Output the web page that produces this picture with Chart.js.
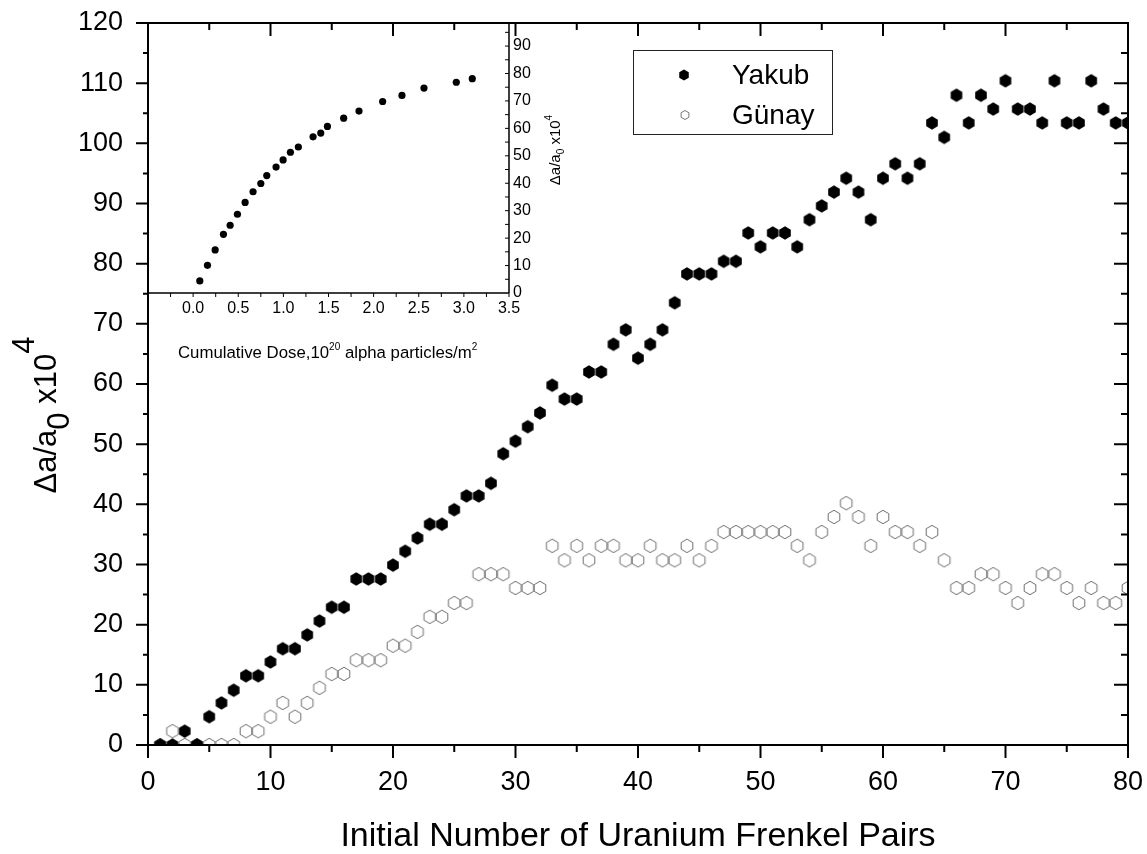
<!DOCTYPE html>
<html>
<head>
<meta charset="utf-8">
<title>Lattice expansion vs. Frenkel pairs</title>
<script src="https://cdn.jsdelivr.net/npm/chart.js@4.4.1/dist/chart.umd.min.js"></script>
<style>
  body { margin: 0; background: #fff; }
  #wrap { position: relative; width: 1147px; height: 854px; }
  #main, #inset { position: absolute; left: 0; top: 0; }
</style>
</head>
<body>
<div id="wrap">
  <canvas id="main" width="1147" height="854"></canvas>
  <canvas id="inset" width="600" height="380"></canvas>
</div>
<script>
// initial number of uranium Frenkel pairs
const frenkelPairs = [1, 2, 3, 4, 5, 6, 7, 8, 9, 10, 11, 12, 13, 14, 15, 16, 17, 18, 19, 20,
  21, 22, 23, 24, 25, 26, 27, 28, 29, 30, 31, 32, 33, 34, 35, 36, 37, 38, 39, 40,
  41, 42, 43, 44, 45, 46, 47, 48, 49, 50, 51, 52, 53, 54, 55, 56, 57, 58, 59, 60,
  61, 62, 63, 64, 65, 66, 67, 68, 69, 70, 71, 72, 73, 74, 75, 76, 77, 78, 79, 80];

// Δa/a0 x10^4
const yakub = [0, 0, 2.3, 0, 4.7, 7.0, 9.1, 11.5, 11.5, 13.8,
  16.0, 16.0, 18.3, 20.6, 22.9, 22.9, 27.6, 27.6, 27.6, 29.9,
  32.2, 34.4, 36.7, 36.7, 39.1, 41.4, 41.4, 43.5, 48.4, 50.5,
  52.9, 55.2, 59.8, 57.5, 57.5, 62.0, 62.0, 66.6, 69.0, 64.3,
  66.6, 69.0, 73.5, 78.3, 78.3, 78.3, 80.4, 80.4, 85.1, 82.8,
  85.1, 85.1, 82.8, 87.3, 89.6, 91.9, 94.2, 91.9, 87.3, 94.2,
  96.6, 94.2, 96.6, 103.4, 101.0, 108.0, 103.4, 108.0, 105.7, 110.4,
  105.7, 105.7, 103.4, 110.4, 103.4, 103.4, 110.4, 105.7, 103.4, 103.4];

const gunay = [0, 2.3, 0, 0, 0, 0, 0, 2.3, 2.3, 4.7,
  7.0, 4.7, 7.0, 9.5, 11.8, 11.8, 14.1, 14.1, 14.1, 16.5,
  16.5, 18.8, 21.3, 21.3, 23.6, 23.6, 28.4, 28.4, 28.4, 26.1,
  26.1, 26.1, 33.1, 30.7, 33.1, 30.7, 33.1, 33.1, 30.7, 30.7,
  33.1, 30.7, 30.7, 33.1, 30.7, 33.1, 35.4, 35.4, 35.4, 35.4,
  35.4, 35.4, 33.1, 30.7, 35.4, 37.9, 40.2, 37.9, 33.1, 37.9,
  35.4, 35.4, 33.1, 35.4, 30.7, 26.1, 26.1, 28.4, 28.4, 26.1,
  23.6, 26.1, 28.4, 28.4, 26.1, 23.6, 26.1, 23.6, 23.6, 26.1];

// inset: cumulative dose (10^20 alpha/m^2) vs Δa/a0 x10^4
const cumulativeDose = [0.074, 0.159, 0.244, 0.336, 0.41, 0.491, 0.576, 0.664, 0.75, 0.816,
  0.919, 0.997, 1.078, 1.166, 1.329, 1.414, 1.488, 1.668, 1.838, 2.1,
  2.314, 2.558, 2.916, 3.093];
const doseExpansion = [4.4, 10.1, 15.7, 21.4, 24.7, 28.7, 33.0, 36.9, 39.9, 42.8,
  45.9, 48.5, 51.3, 53.2, 56.9, 58.3, 60.7, 63.7, 66.3, 69.8,
  72.0, 74.7, 76.8, 78.1];

const FONT = '"Liberation Sans", Arial, sans-serif';
Chart.defaults.font.family = FONT;
Chart.defaults.color = '#000';

function pairs(xs, ys) {
  return xs.map((x, i) => ({ x: x, y: ys[i] }));
}

// hexagon with a vertex on top, used as point marker
function hexPath(g, cx, cy, r) {
  g.beginPath();
  for (let k = 0; k < 6; k++) {
    const a = Math.PI / 2 + k * Math.PI / 3;
    const px = cx + r * Math.cos(a), py = cy + r * Math.sin(a);
    if (k === 0) g.moveTo(px, py); else g.lineTo(px, py);
  }
  g.closePath();
}

function hexMarker(r, fill, stroke) {
  const c = document.createElement('canvas');
  c.width = c.height = 16;
  const g = c.getContext('2d');
  hexPath(g, 8, 8, r);
  if (fill) { g.fillStyle = fill; g.fill(); }
  if (stroke) { g.strokeStyle = stroke; g.lineWidth = 1; g.stroke(); }
  return c;
}

// text runs with baseline shifts (sub/superscripts)
function drawRuns(ctx, runs, align) {
  let total = 0;
  runs.forEach(r => { ctx.font = r.size + 'px ' + FONT; r.w = ctx.measureText(r.t).width; total += r.w; });
  let x = align === 'center' ? -total / 2 : 0;
  ctx.textAlign = 'left';
  ctx.textBaseline = 'alphabetic';
  runs.forEach(r => {
    ctx.font = r.size + 'px ' + FONT;
    ctx.fillText(r.t, x, r.dy || 0);
    x += r.w;
  });
}

// tick marks are drawn by the plugins; the hidden grid tick length only offsets the labels
const hiddenGrid = len => ({ display: false, drawTicks: true, tickLength: len });

const mainDecor = {
  id: 'mainDecor',
  afterDraw(chart) {
    const { ctx, chartArea: a, scales: { x, y } } = chart;
    ctx.save();
    ctx.strokeStyle = '#000';
    ctx.fillStyle = '#000';
    ctx.lineWidth = 2;
    ctx.strokeRect(a.left, a.top, a.right - a.left, a.bottom - a.top);

    ctx.beginPath();
    for (let v = 0; v <= 80; v += 5) {
      const px = x.getPixelForValue(v);
      const len = v % 10 === 0 ? 13 : 7;
      ctx.moveTo(px, a.bottom); ctx.lineTo(px, a.bottom + len);
      ctx.moveTo(px, a.top); ctx.lineTo(px, a.top + len);
    }
    for (let v = 0; v <= 120; v += 5) {
      const py = y.getPixelForValue(v);
      const major = v % 10 === 0;
      ctx.moveTo(a.left, py); ctx.lineTo(a.left - (major ? 12 : 5), py);
      ctx.moveTo(a.right, py); ctx.lineTo(a.right - (major ? 14 : 7), py);
    }
    ctx.stroke();

    // axis titles
    ctx.font = '34px ' + FONT;
    ctx.textAlign = 'center';
    ctx.textBaseline = 'alphabetic';
    ctx.fillText('Initial Number of Uranium Frenkel Pairs', 638, 846);

    ctx.save();
    ctx.translate(56, 415);
    ctx.rotate(-Math.PI / 2);
    drawRuns(ctx, [
      { t: 'Δa/a', size: 31 },
      { t: '0', size: 31, dy: 13 },
      { t: ' x10', size: 31 },
      { t: '4', size: 31, dy: -22 }
    ], 'center');
    ctx.restore();

    // legend
    ctx.lineWidth = 1;
    ctx.strokeStyle = '#222';
    ctx.strokeRect(633.5, 50.5, 199, 84);
    const sets = chart.data.datasets;
    hexPath(ctx, 684, 75, 5.5);
    ctx.fillStyle = '#000';
    ctx.fill();
    hexPath(ctx, 685, 115, 4.5);
    ctx.strokeStyle = '#777';
    ctx.stroke();
    ctx.font = '28px ' + FONT;
    ctx.textAlign = 'left';
    ctx.textBaseline = 'middle';
    ctx.fillText(sets[0].label, 732, 76);
    ctx.fillText(sets[1].label, 732, 116);
    ctx.restore();
  }
};

new Chart(document.getElementById('main'), {
  type: 'scatter',
  data: {
    datasets: [
      {
        label: 'Yakub',
        data: pairs(frenkelPairs, yakub),
        pointStyle: hexMarker(6.7, '#000', null),
        pointRadius: 7
      },
      {
        label: 'Günay',
        data: pairs(frenkelPairs, gunay),
        pointStyle: hexMarker(6.7, null, '#6f6f6f'),
        pointRadius: 7
      }
    ]
  },
  options: {
    responsive: false,
    animation: false,
    layout: { padding: { left: 0, top: 23, right: 19, bottom: 0 } },
    plugins: { legend: { display: false }, tooltip: { enabled: false } },
    scales: {
      x: {
        type: 'linear', min: 0, max: 80,
        grid: hiddenGrid(21),
        border: { display: false },
        ticks: { stepSize: 10, padding: 0, font: { size: 27 }, maxRotation: 0 },
        afterFit: s => { s.height = 109; }
      },
      y: {
        type: 'linear', min: 0, max: 120,
        grid: hiddenGrid(25),
        border: { display: false },
        ticks: { stepSize: 10, padding: 0, font: { size: 27 } },
        afterFit: s => { s.width = 148; }
      }
    }
  },
  plugins: [mainDecor]
});

const insetDecor = {
  id: 'insetDecor',
  afterDraw(chart) {
    const { ctx, chartArea: a, scales: { x, y } } = chart;
    ctx.save();
    ctx.strokeStyle = '#000';
    ctx.fillStyle = '#000';
    ctx.lineWidth = 1.5;
    ctx.beginPath();
    ctx.moveTo(a.left, a.bottom); ctx.lineTo(a.right, a.bottom);
    ctx.moveTo(a.right, a.bottom); ctx.lineTo(a.right, a.top);
    ctx.stroke();

    ctx.lineWidth = 1;
    ctx.beginPath();
    for (let v = -0.25; v <= 3.5; v += 0.25) {
      const px = x.getPixelForValue(v);
      ctx.moveTo(px, a.bottom); ctx.lineTo(px, a.bottom + 4);
    }
    for (let v = 5; v <= 95; v += 5) {
      const py = y.getPixelForValue(v);
      ctx.moveTo(a.right, py); ctx.lineTo(a.right - 4, py);
    }
    ctx.stroke();

    ctx.save();
    ctx.translate(178, 358);
    drawRuns(ctx, [
      { t: 'Cumulative Dose,10', size: 16.8 },
      { t: '20', size: 10, dy: -8 },
      { t: ' alpha particles/m', size: 16.8 },
      { t: '2', size: 10, dy: -8 }
    ], 'left');
    ctx.restore();

    ctx.save();
    ctx.translate(560, 150);
    ctx.rotate(-Math.PI / 2);
    drawRuns(ctx, [
      { t: 'Δa/a', size: 15 },
      { t: '0', size: 10, dy: 4 },
      { t: ' x10', size: 15 },
      { t: '4', size: 10, dy: -8 }
    ], 'center');
    ctx.restore();
    ctx.restore();
  }
};

new Chart(document.getElementById('inset'), {
  type: 'scatter',
  data: {
    datasets: [{
      label: 'Cumulative dose',
      data: pairs(cumulativeDose, doseExpansion),
      pointStyle: 'circle',
      pointRadius: 3.6,
      borderWidth: 0,
      backgroundColor: '#000'
    }]
  },
  options: {
    responsive: false,
    animation: false,
    layout: { padding: { left: 148, top: 23, right: 0, bottom: 0 } },
    plugins: { legend: { display: false }, tooltip: { enabled: false } },
    scales: {
      x: {
        type: 'linear', min: -0.5, max: 3.5,
        grid: hiddenGrid(6),
        border: { display: false },
        ticks: {
          stepSize: 0.5, padding: 0, font: { size: 16 }, maxRotation: 0,
          callback: v => (v < 0 ? '' : v.toFixed(1))
        },
        afterFit: s => { s.height = 87; }
      },
      y: {
        type: 'linear', position: 'right', min: 0, max: 98.4,
        grid: hiddenGrid(4),
        border: { display: false },
        ticks: { stepSize: 10, padding: 0, font: { size: 16 }, includeBounds: false },
        afterFit: s => { s.width = 91; }
      }
    }
  },
  plugins: [insetDecor]
});
</script>
</body>
</html>
